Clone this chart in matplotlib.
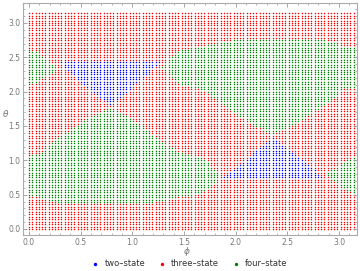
import numpy as np
import matplotlib.pyplot as plt
from matplotlib.ticker import MultipleLocator

# scan grid (phi columns, theta rows)
n_phi, n_theta = 100, 88

# region boundaries: phi knots, lower / upper theta
# four-state, lower-left lens
g1_phi = [0.0, 0.1, 0.2, 0.35, 0.5, 0.65, 0.78, 0.95, 1.1, 1.27, 1.46, 1.68, 1.87]
g1_lo = [0.49, 0.47, 0.40, 0.38, 0.37, 0.37, 0.37, 0.37, 0.38, 0.40, 0.47, 0.52, 0.78]
g1_hi = [1.07, 1.10, 1.25, 1.40, 1.55, 1.68, 1.76, 1.65, 1.50, 1.30, 1.12, 1.03, 0.78]
# four-state, upper-right lens
g2_phi = [1.27, 1.46, 1.68, 1.89, 2.04, 2.19, 2.36, 2.49, 2.64, 2.79, 2.94, 3.04, 3.1416]
g2_lo = [2.36, 2.11, 2.02, 1.79, 1.64, 1.49, 1.38, 1.46, 1.59, 1.74, 1.89, 2.04, 2.07]
g2_hi = [2.36, 2.62, 2.67, 2.74, 2.76, 2.77, 2.77, 2.77, 2.77, 2.76, 2.74, 2.67, 2.65]
# four-state, edge triangles
g3_phi = [0.0, 0.14, 0.28]
g3_lo = [2.08, 2.20, 2.33]
g3_hi = [2.63, 2.50, 2.33]
g4_phi = [2.86, 3.0, 3.1416]
g4_lo = [0.80, 0.66, 0.50]
g4_hi = [0.80, 0.93, 1.06]
# two-state triangles
b1_phi = [0.29, 0.45, 0.62, 0.78, 0.95, 1.1, 1.27]
b1_lo = [2.43, 2.20, 2.00, 1.80, 2.00, 2.20, 2.43]
b1_hi = [2.43, 2.43, 2.43, 2.43, 2.43, 2.43, 2.43]
b2_phi = [1.87, 2.04, 2.2, 2.36, 2.52, 2.69, 2.86]
b2_lo = [0.74, 0.74, 0.74, 0.74, 0.74, 0.74, 0.74]
b2_hi = [0.74, 0.95, 1.15, 1.34, 1.15, 0.95, 0.74]

labels = ['two\u2013state', 'three\u2013state', 'four\u2013state']
colors = ['#0000ff', '#ff0000', '#008000']

#grid---classify--------------------------------------------------------------
P, T = np.meshgrid(np.linspace(0, np.pi, n_phi + 1), np.linspace(0, np.pi, n_theta + 1))
P = P.ravel()
T = T.ravel()

def inside(kp, lo, hi):
    ok = (P >= kp[0]) & (P <= kp[-1])
    return ok & (T >= np.interp(P, kp, lo)) & (T <= np.interp(P, kp, hi))

blue = inside(b1_phi, b1_lo, b1_hi) | inside(b2_phi, b2_lo, b2_hi)
green = (inside(g1_phi, g1_lo, g1_hi) | inside(g2_phi, g2_lo, g2_hi)
         | inside(g3_phi, g3_lo, g3_hi) | inside(g4_phi, g4_lo, g4_hi)) & ~blue
red = ~blue & ~green

#plot-------------------------------------------------------------------------
fig = plt.figure(figsize=(3.6, 2.71), dpi=100)
ax = fig.add_axes([0.064, 0.133, 0.928, 0.856])
for m, c, lab in zip([blue, red, green], colors, labels):
    ax.scatter(P[m], T[m], s=1.15, c=c, marker='o', linewidths=0, label=lab)

ax.set_xlim(-0.058, 3.175)
ax.set_ylim(-0.087, 3.29)
for a in (ax.xaxis, ax.yaxis):
    a.set_major_locator(MultipleLocator(0.5))
    a.set_minor_locator(MultipleLocator(0.1))
ax.xaxis.set_major_formatter(lambda v, p: f"{v:.1f}")
ax.yaxis.set_major_formatter(lambda v, p: f"{v:.1f}")
ax.tick_params(which='both', direction='in', top=True, right=True,
               color='#999999', labelcolor='#777777', labelsize=5.5, pad=2)
ax.tick_params(which='major', length=3, width=0.6)
ax.tick_params(which='minor', length=1.5, width=0.5)
for s in ax.spines.values():
    s.set_color('#aaaaaa')
    s.set_linewidth(0.8)
ax.set_xlabel('$\\phi$', color='#777777', fontsize=6.5)
ax.xaxis.set_label_coords(0.49, -0.045)
ax.set_ylabel('$\\theta$', color='#777777', fontsize=6.5, labelpad=2, rotation=0)

leg = fig.legend(loc='lower center', ncol=3, frameon=False, fontsize=6,
                 handletextpad=0.1, columnspacing=1.0, borderaxespad=0.3,
                 bbox_to_anchor=(0.52, -0.012), labelcolor='#333333')
for h in leg.legend_handles:
    h.set_sizes([6])

fig.savefig('out.png', dpi=100)
